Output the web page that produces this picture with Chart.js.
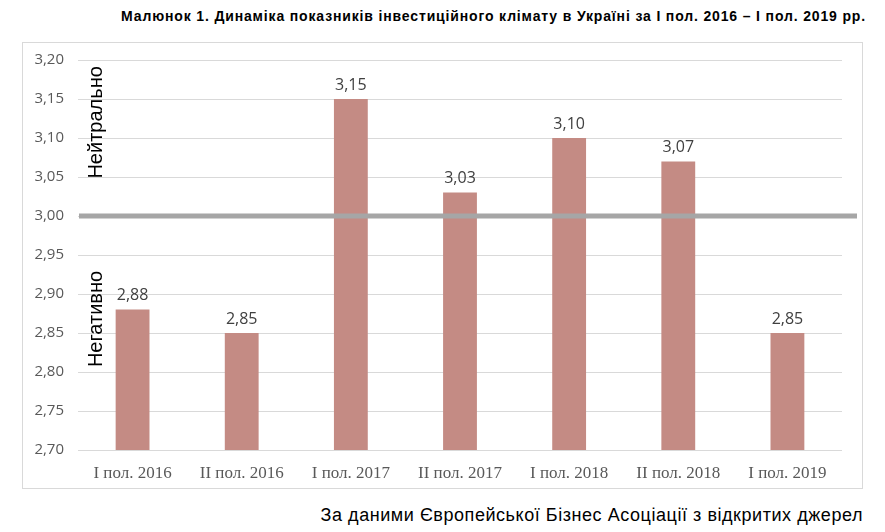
<!DOCTYPE html>
<html>
<head>
<meta charset="utf-8">
<script src="https://cdn.jsdelivr.net/npm/chart.js@4.4.0/dist/chart.umd.min.js"></script>
<style>
  body { margin: 0; background: #fff; width: 885px; height: 532px; position: relative; overflow: hidden; }
  #title { position: absolute; right: 19px; top: 8px; font: bold 14px "Liberation Sans", Arial, sans-serif; letter-spacing: 0.85px; color: #000; white-space: nowrap; }
  #box { position: absolute; left: 22px; top: 42px; width: 841px; height: 447px; border: 1px solid #d9d9d9; box-sizing: border-box; }
  #source { position: absolute; right: 22px; top: 505px; font: 18px "Liberation Sans", Arial, sans-serif; letter-spacing: 0.55px; color: #000; white-space: nowrap; }
</style>
</head>
<body>
<div id="title">Малюнок 1. Динаміка показників інвестиційного клімату в Україні за І пол. 2016 – І пол. 2019 рр.</div>
<div id="box"><canvas id="myChart"></canvas></div>
<div id="source">За даними Європейської Бізнес Асоціації з відкритих джерел</div>
<script>
// periods on the x axis
var labels = ['I пол. 2016', 'II пол. 2016', 'I пол. 2017', 'II пол. 2017', 'I пол. 2018', 'II пол. 2018', 'I пол. 2019'];
// index values
var values = [2.88, 2.85, 3.15, 3.03, 3.10, 3.07, 2.85];
// neutral line level and zone captions
var neutralLevel = 3.00;
var zoneTexts = ['Нейтрально', 'Негативно'];
var zoneCenters = [3.12, 2.868];

function fmt(v) {
    return v.toFixed(2).replace('.', ',');
}

// thick grey line at 3,00, value labels and rotated captions
const extras = {
    id: 'extras',
    afterDatasetsDraw(chart) {
        const ctx = chart.ctx;
        const y = chart.scales.y;
        const area = chart.chartArea;
        ctx.save();
        // neutral line
        const ly = y.getPixelForValue(neutralLevel);
        ctx.strokeStyle = '#a6a6a6';
        ctx.lineWidth = 5;
        ctx.beginPath();
        ctx.moveTo(area.left + 1, ly);
        ctx.lineTo(area.right + 15, ly);
        ctx.stroke();
        // values above bars
        ctx.fillStyle = '#404040';
        ctx.font = '16px "Open Sans", "Liberation Sans", sans-serif';
        ctx.textAlign = 'center';
        ctx.textBaseline = 'bottom';
        chart.getDatasetMeta(0).data.forEach(function(bar, i) {
            ctx.fillText(fmt(values[i]), bar.x, bar.y - 6);
        });
        // rotated captions
        ctx.fillStyle = '#000';
        ctx.font = '20px "Liberation Sans", Arial, sans-serif';
        ctx.textBaseline = 'alphabetic';
        zoneTexts.forEach(function(t, i) {
            ctx.save();
            ctx.translate(area.left + 24, y.getPixelForValue(zoneCenters[i]));
            ctx.rotate(-Math.PI / 2);
            ctx.fillText(t, 0, 0);
            ctx.restore();
        });
        ctx.restore();
    }
};

var grapharea = document.getElementById('myChart');
const data = {
    labels: labels,
    datasets: [{
        data: values,
        backgroundColor: '#c48b84',
        categoryPercentage: 1,
        barPercentage: 0.31
    }]
};
const config = {
    type: 'bar',
    data: data,
    options: {
        responsive: false,
        animation: false,
        layout: { padding: { top: 17, right: 20, left: 0, bottom: 0 } },
        plugins: { legend: { display: false }, tooltip: { enabled: false } },
        scales: {
            x: {
                grid: { display: false },
                border: { display: false },
                ticks: { color: '#595959', font: { family: '"Liberation Serif", "Times New Roman", serif', size: 17 }, padding: 5 },
                afterFit: function(s) { s.height = 38; }
            },
            y: {
                min: 2.70,
                max: 3.20,
                grid: { color: '#d9d9d9', drawTicks: false },
                border: { display: false },
                ticks: {
                    stepSize: 0.05,
                    color: '#595959',
                    padding: 14,
                    font: { family: '"Open Sans", "Liberation Sans", sans-serif', size: 15 },
                    callback: function(v) { return fmt(v); }
                },
                afterFit: function(s) { s.width = 55; s.paddingTop = 0; s.paddingBottom = 0; }
            }
        }
    },
    plugins: [extras]
};
grapharea.width = 839;
grapharea.height = 445;
const myChart = new Chart(grapharea, config);
</script>
</body>
</html>
